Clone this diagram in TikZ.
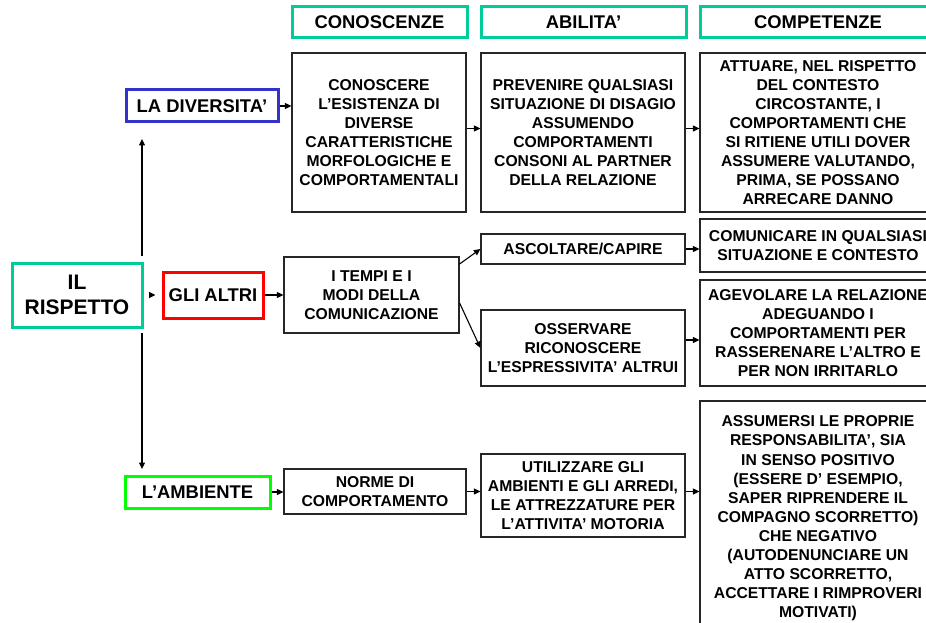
\documentclass[tikz,border=0pt]{standalone}
\usepackage{fontspec}
\setmainfont{Liberation Sans}
\usetikzlibrary{arrows.meta}
\definecolor{tealc}{RGB}{0,204,153}
\definecolor{bluec}{RGB}{51,51,204}
\definecolor{redc}{RGB}{255,0,0}
\definecolor{greenc}{RGB}{0,255,0}
\begin{document}
\begin{tikzpicture}[x=1pt,y=-1pt,
  box/.style={draw=black!85, line width=1.2pt, align=center, inner sep=0pt,
    font=\bfseries\fontsize{15.7}{19.1}\selectfont},
  headbox/.style={draw=tealc, line width=3pt, align=center, inner sep=0pt,
    font=\bfseries\fontsize{18.4}{22}\selectfont},
  lblbox/.style={line width=3pt, align=center, inner sep=0pt,
    font=\bfseries\fontsize{18.4}{22}\selectfont},
  arr/.style={-{Triangle[length=6.5pt,width=6pt]}, line width=1.1pt}]
\useasboundingbox (0,0) rectangle (926,623);
\clip (0,0) rectangle (926,623);

% headers
\node[headbox, minimum width=175pt, minimum height=31pt] (h1) at (379.5,22.5) {CONOSCENZE};
\node[headbox, minimum width=205pt, minimum height=31pt] (h2) at (583.5,22.5) {ABILITA’};
\node[headbox, minimum width=236pt, minimum height=31pt] (h3) at (818,22.5) {COMPETENZE};

% row 1
\node[lblbox, draw=bluec, minimum width=152pt, minimum height=32pt] (div) at (202,106) {LA DIVERSITA’};
\node[box, minimum width=174pt, minimum height=159pt] (c1) at (379,132.5)
  {CONOSCERE\\ L’ESISTENZA DI\\ DIVERSE\\ CARATTERISTICHE\\ MORFOLOGICHE E\\ COMPORTAMENTALI};
\node[box, minimum width=204pt, minimum height=159pt] (c2) at (583,132.5)
  {PREVENIRE QUALSIASI\\ SITUAZIONE DI DISAGIO\\ ASSUMENDO\\ COMPORTAMENTI\\ CONSONI AL PARTNER\\ DELLA RELAZIONE};
\node[box, minimum width=236pt, minimum height=159pt] (c3) at (818,132.5)
  {ATTUARE, NEL RISPETTO\\ DEL CONTESTO\\ CIRCOSTANTE, I\\ COMPORTAMENTI CHE\\ SI RITIENE UTILI DOVER\\ ASSUMERE VALUTANDO,\\ PRIMA, SE POSSANO\\ ARRECARE DANNO};

% row 2
\node[lblbox, draw=tealc, minimum width=130pt, minimum height=64pt,
  font=\bfseries\fontsize{21}{25.7}\selectfont] (ris) at (77,295) {IL\\ RISPETTO};
\node[lblbox, draw=redc, minimum width=100pt, minimum height=46pt] (alt) at (213,295) {GLI ALTRI};
\node[box, minimum width=175pt, minimum height=76pt] (tem) at (371.5,295)
  {I TEMPI E I\\ MODI DELLA\\ COMUNICAZIONE};
\node[box, minimum width=204pt, minimum height=30pt] (asc) at (583,249) {ASCOLTARE/CAPIRE};
\node[box, minimum width=204pt, minimum height=76pt] (oss) at (583,348)
  {OSSERVARE\\ RICONOSCERE\\ L’ESPRESSIVITA’ ALTRUI};
\node[box, minimum width=236pt, minimum height=53pt] (com) at (818,245.5)
  {COMUNICARE IN QUALSIASI\\ SITUAZIONE E CONTESTO};
\node[box, minimum width=236pt, minimum height=106pt] (age) at (818,333)
  {AGEVOLARE LA RELAZIONE\\ ADEGUANDO I\\ COMPORTAMENTI PER\\ RASSERENARE L’ALTRO E\\ PER NON IRRITARLO};

% row 3
\node[lblbox, draw=greenc, minimum width=145pt, minimum height=32pt] (amb) at (197.5,492) {L’AMBIENTE};
\node[box, minimum width=182pt, minimum height=45pt] (nor) at (375,491.5)
  {NORME DI\\ COMPORTAMENTO};
\node[box, minimum width=204pt, minimum height=83pt] (uti) at (583,495.5)
  {UTILIZZARE GLI\\ AMBIENTI E GLI ARREDI,\\ LE ATTREZZATURE PER\\ L’ATTIVITA’ MOTORIA};
\node[box, minimum width=236pt, minimum height=235pt] (ass) at (818,518.5)
  {ASSUMERSI LE PROPRIE\\ RESPONSABILITA’, SIA\\ IN SENSO POSITIVO\\ (ESSERE D’ ESEMPIO,\\ SAPER RIPRENDERE IL\\ COMPAGNO SCORRETTO)\\ CHE NEGATIVO\\ (AUTODENUNCIARE UN\\ ATTO SCORRETTO,\\ ACCETTARE I RIMPROVERI\\ MOTIVATI)};

% connectors
\coordinate (vs1) at (142,256);
\coordinate (vtop) at (142,139);
\coordinate (vs2) at (142,333);
\coordinate (vbot) at (142,469);
\draw[arr] (vs1) -- (vtop);
\draw[arr] (vs2) -- (vbot);
\draw[arr, shorten <=7pt, shorten >=6pt] (ris.east) -- (alt.west);

\draw[arr] (div.east) -- (div.east -| c1.west);
\draw[arr] ([yshift=4pt]c1.east) -- ([yshift=4pt]c2.west);
\draw[arr] ([yshift=4pt]c2.east) -- ([yshift=4pt]c3.west);

\draw[arr] (alt.east) -- (tem.west);
\draw[arr] ([yshift=31pt]tem.east) -- (asc.west);
\draw[arr] ([yshift=-8pt]tem.east) -- (oss.west);
\draw[arr] (asc.east) -- (asc.east -| com.west);
\draw[arr] ([yshift=8pt]oss.east) -- ([yshift=8pt]oss.east -| age.west);

\draw[arr] (amb.east) -- (amb.east -| nor.west);
\draw[arr] (nor.east) -- (nor.east -| uti.west);
\draw[arr] ([yshift=4pt]uti.east) -- ([yshift=4pt]uti.east -| ass.west);
\end{tikzpicture}
\end{document}
